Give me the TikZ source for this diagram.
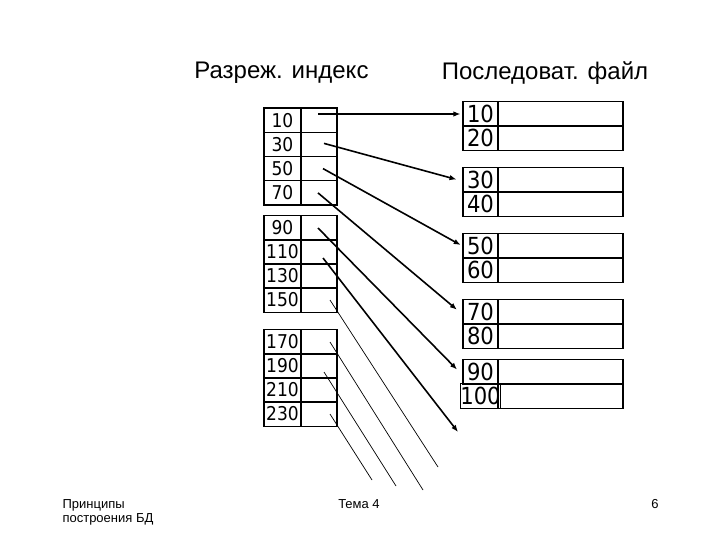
\documentclass[tikz,border=0pt]{standalone}
\usepackage{fontspec}
\setmainfont{Liberation Sans}
\newfontfamily\cellfamily{DejaVu Sans Condensed}
\usetikzlibrary{arrows.meta,calc}
\tikzset{
  cellbase/.style={draw, line width=1.1pt, inner sep=0pt, minimum height=24.2pt},
  idxkey/.style={cellbase, minimum width=37pt, font=\cellfamily\fontsize{19pt}{20pt}\selectfont},
  idxptr/.style={cellbase, minimum width=36pt},
  filekey/.style={cellbase, minimum width=35pt, font=\cellfamily\fontsize{23.5pt}{24pt}\selectfont},
  filedata/.style={cellbase, minimum width=125pt},
  ptr/.style={line width=1.6pt, -{Latex[length=7pt,width=5.5pt]}, shorten >=2pt},
  thinln/.style={line width=0.7pt},
  title/.style={font=\fontsize{24pt}{26pt}\selectfont},
  foot/.style={font=\fontsize{13pt}{14pt}\selectfont}
}
\begin{document}
\begin{tikzpicture}[x=1pt,y=-1pt]
\useasboundingbox (0,0) rectangle (720,540);
% titles
\node[title] (t1) at (281.5,73) {Разреж. индекс};
\node[title] (t2) at (545,73) {Последоват. файл};
% sparse index block 1
\node[idxkey] (a1k) at (282.5,120.1) {10}; \node[idxptr] (a1p) at (319,120.1) {};
\node[idxkey] (a2k) at (282.5,144.4) {30}; \node[idxptr] (a2p) at (319,144.4) {};
\node[idxkey] (a3k) at (282.5,168.6) {50}; \node[idxptr] (a3p) at (319,168.6) {};
\node[idxkey] (a4k) at (282.5,192.9) {70}; \node[idxptr] (a4p) at (319,192.9) {};
% block 2
\node[idxkey] (b1k) at (282.5,228) {90};  \node[idxptr] (b1p) at (319,228) {};
\node[idxkey] (b2k) at (282.5,252) {110}; \node[idxptr] (b2p) at (319,252) {};
\node[idxkey] (b3k) at (282.5,276) {130}; \node[idxptr] (b3p) at (319,276) {};
\node[idxkey] (b4k) at (282.5,300) {150}; \node[idxptr] (b4p) at (319,300) {};
% block 3
\node[idxkey] (c1k) at (282.5,342) {170}; \node[idxptr] (c1p) at (319,342) {};
\node[idxkey] (c2k) at (282.5,366) {190}; \node[idxptr] (c2p) at (319,366) {};
\node[idxkey] (c3k) at (282.5,390) {210}; \node[idxptr] (c3p) at (319,390) {};
\node[idxkey] (c4k) at (282.5,414) {230}; \node[idxptr] (c4p) at (319,414) {};
% sequential file
\node[filekey] (f1k) at (480.5,114) {10}; \node[filedata] (f1d) at (560.5,114) {};
\node[filekey] (f1m) at (480.5,138) {20}; \node[filedata] (f1e) at (560.5,138) {};
\node[filekey] (f2k) at (480.5,180) {30}; \node[filedata] (f2d) at (560.5,180) {};
\node[filekey] (f2m) at (480.5,204) {40}; \node[filedata] (f2e) at (560.5,204) {};
\node[filekey] (f3k) at (480.5,246) {50}; \node[filedata] (f3d) at (560.5,246) {};
\node[filekey] (f3m) at (480.5,270) {60}; \node[filedata] (f3e) at (560.5,270) {};
\node[filekey] (f4k) at (480.5,312) {70}; \node[filedata] (f4d) at (560.5,312) {};
\node[filekey] (f4m) at (480.5,336) {80}; \node[filedata] (f4e) at (560.5,336) {};
\node[filekey] (f5k) at (480.5,372) {90}; \node[filedata] (f5d) at (560.5,372) {};
\node[filekey] (f5m) at (480.5,396) {100}; \node[filedata] (f5e) at (560.5,396) {};
% free ends
\coordinate (n6) at (458,432);
\coordinate (n7) at (438,467);
\coordinate (n8) at (423,490);
\coordinate (n9) at (396,486);
\coordinate (n10) at (372,480);
% pointers
\draw[ptr] ($(a1p.center)+(-1,-6.1)$) -- (f1k.west);
\draw[ptr] ($(a2p.center)+(5,-1)$) -- ($(f2k.west)+(-4,0)$);
\draw[ptr] ($(a3p.center)+(4,0)$) -- (f3k.west);
\draw[ptr] ($(a4p.center)+(-1,0)$) -- ($(f4k.west)+(-4,-1)$);
\draw[ptr] ($(b1p.center)+(-1,0)$) -- ($(f5k.west)+(-4,-1)$);
\draw[ptr, shorten >=0pt] ($(b2p.center)+(4,6)$) -- (n6);
\draw[thinln] ($(b4p.center)+(11,0)$) -- (n7);
\draw[thinln] ($(c1p.center)+(11,0)$) -- (n8);
\draw[thinln] ($(c2p.center)+(5,6)$) -- (n9);
\draw[thinln] ($(c4p.center)+(11,0)$) -- (n10);
% footer
\node[foot, align=left, anchor=north west] (ft1) at (59,496) {Принципы\\построения БД};
\node[foot] (ft2) at (359,504) {Тема 4};
\node[foot] (ft3) at (655,504) {6};
\end{tikzpicture}
\end{document}
